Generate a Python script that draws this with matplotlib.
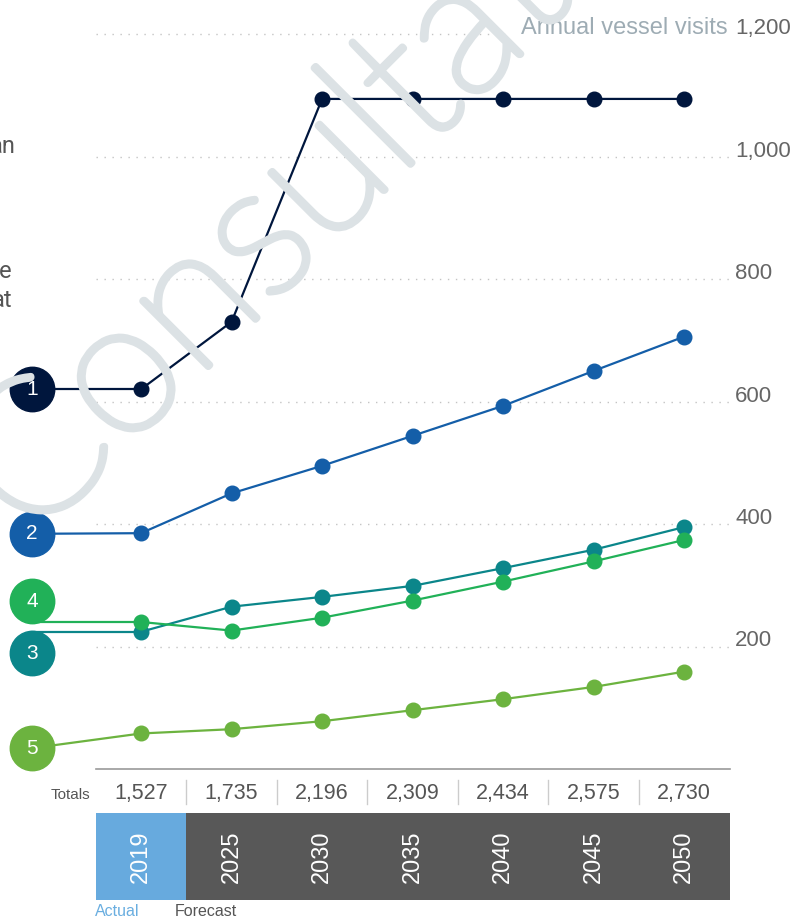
import numpy as np
import matplotlib
matplotlib.use("Agg")
import matplotlib.pyplot as plt
import matplotlib.patheffects as pe
from matplotlib.lines import Line2D
from matplotlib.textpath import TextPath
from matplotlib.font_manager import FontProperties

plt.rcParams['font.family'] = ['Liberation Sans', 'DejaVu Sans']

years = ["2019", "2025", "2030", "2035", "2040", "2045", "2050"]
totals = ["1,527", "1,735", "2,196", "2,309", "2,434", "2,575", "2,730"]

series_1 = [620, 730, 1094, 1094, 1094, 1094, 1094]
series_2 = [385, 450, 495, 544, 593, 650, 706]
series_3 = [224, 265, 281, 299, 328, 358, 395]
series_4 = [240, 226, 247, 275, 306, 339, 374]
series_5 = [58, 65, 78, 96, 114, 134, 159]

series_names = ["1", "2", "3", "4", "5"]
series_colors = ["#00163d", "#145ea8", "#0b868a", "#21b158", "#6cb33f"]
yticks = [200, 400, 600, 800, 1000, 1200]

W, H = 795, 918
fig = plt.figure(figsize=(W / 100, H / 100), dpi=100)
fig.patch.set_facecolor("white")

xlim = (-141 / 90.55, (W - 141) / 90.55)

# main chart area: value 0 sits at pixel row 769
ax = fig.add_axes([0, (H - 769) / H, 1, 769 / H])
ax.set_xlim(*xlim)
ax.set_ylim(0, 769 * 200 / 122.5)
ax.axis("off")

xs = list(range(len(years)))
left, right = -0.5, len(years) - 0.5

# dotted guides
for v in yticks:
    end = 4.05 if v == 1200 else right
    ax.plot([left, end], [v, v], color="#c4c4c4", lw=1.0,
            dashes=(1, 4.75), zorder=1)
    ax.text(6.56, v, f"{v:,}", ha="left", va="baseline",
            fontsize=16, color="#666666", zorder=5)
ax.text(6.48, 1200, "Annual vessel visits", ha="right", va="baseline",
        fontsize=17, color="#9eacb4", zorder=5)
ax.plot([left, right], [0, 0], color="#9a9a9a", lw=1.2, clip_on=False, zorder=2)

# faint diagonal stamp, sized so that the "o" and the "a" sit where wanted
stamp = "Consultation"
stamp_col = "#dce2e5"
stamp_prop = FontProperties(family=["Lato", "Liberation Sans"], weight="light")


def glyph_center(prefix, ch, size):
    full = TextPath((0, 0), prefix + ch, size=size, prop=stamp_prop).get_extents()
    one = TextPath((0, 0), ch, size=size, prop=stamp_prop).get_extents()
    return full.x1 - one.width / 2, (one.y0 + one.y1) / 2


em0 = 100.0
o_x, _ = glyph_center("C", "o", em0)
a_x, _ = glyph_center("Consult", "a", em0)
em = em0 * 480.0 / (a_x - o_x)
o_x, o_y = glyph_center("C", "o", em)
ink0 = TextPath((0, 0), stamp, size=em, prop=stamp_prop).get_extents().x0
ang = np.deg2rad(45)
u = np.array([np.cos(ang), np.sin(ang)])
n = np.array([-np.sin(ang), np.cos(ang)])
target = np.array([117.0, H - 392.0])
anchor = target - (o_x - ink0) * u - o_y * n
fig.text(anchor[0] / W, anchor[1] / H, stamp, rotation=45, rotation_mode="anchor",
         ha="left", va="baseline", fontsize=em * 72 / 100, color=stamp_col,
         family=["Lato", "Liberation Sans"], fontweight="light", zorder=0,
         path_effects=[pe.Stroke(linewidth=5.0, foreground=stamp_col,
                                 joinstyle="round", capstyle="round"),
                       pe.Normal()])

# clipped paragraph on the left
for txt, xx, yy in [("an", 16, 153), ("e", 12, 278), ("at", 12, 307)]:
    fig.text(xx / W, 1 - yy / H, txt, ha="right",
             va="baseline", fontsize=17, color="#555555",
             family=["Roboto", "Liberation Sans"])

# series lines with numbered badges
all_series = [series_1, series_2, series_3, series_4, series_5]
badge_x = -1.204
badge_y = [620, 384, 189, 274, 34]
for name, vals, col, by in zip(series_names, all_series, series_colors, badge_y):
    ax.plot(xs, vals, color=col, lw=1.6, marker="o", ms=10.5,
            zorder=4, clip_on=False)
    if name in ("3", "4"):
        lead = ([badge_x, 0], [vals[0], vals[0]])
    else:
        lead = ([badge_x, 0], [by, vals[0]])
    ax.plot(*lead, color=col, lw=1.6, zorder=3, clip_on=False)
    ax.plot([badge_x], [by], marker="o", ms=32, color=col, zorder=6,
            clip_on=False)
    ax.text(badge_x, by, name, ha="center", va="center", fontsize=15,
            color="white", zorder=7)

# year band
band = fig.add_axes([0, (H - 900) / H, 1, 87.3 / H])
band.set_xlim(*xlim)
band.set_ylim(0, 1)
band.axis("off")
band_colors = ["#67aade"] + ["#585858"] * (len(years) - 1)
band.bar(xs, [1] * len(years), width=1.0, color=band_colors, linewidth=0)
for x, yr in zip(xs, years):
    band.text(x, 0.5, yr, rotation=90, ha="center", va="center",
              fontsize=17, color="white")

# totals row above the band
base = (900 - 799) / 87.3
band.text(-0.555, base, "Totals", ha="right", va="baseline",
          fontsize=11, color="#555555", clip_on=False)
for x, t in zip(xs, totals):
    band.text(x, base, t, ha="center", va="baseline", fontsize=15.5,
              color="#555555", clip_on=False)
for x in xs[:-1]:
    band.add_line(Line2D([x + 0.5, x + 0.5],
                         [(900 - 780) / 87.3, (900 - 804) / 87.3],
                         color="#cccccc", lw=1.0, clip_on=False))

below = (900 - 915.5) / 87.3
band.text(-0.505, below, "Actual", ha="left", va="baseline",
          fontsize=11.5, color="#6aaee0", clip_on=False)
band.text(0.375, below, "Forecast", ha="left", va="baseline",
          fontsize=11.5, color="#555555", clip_on=False)

fig.savefig("out.png", dpi=100, facecolor="white")
